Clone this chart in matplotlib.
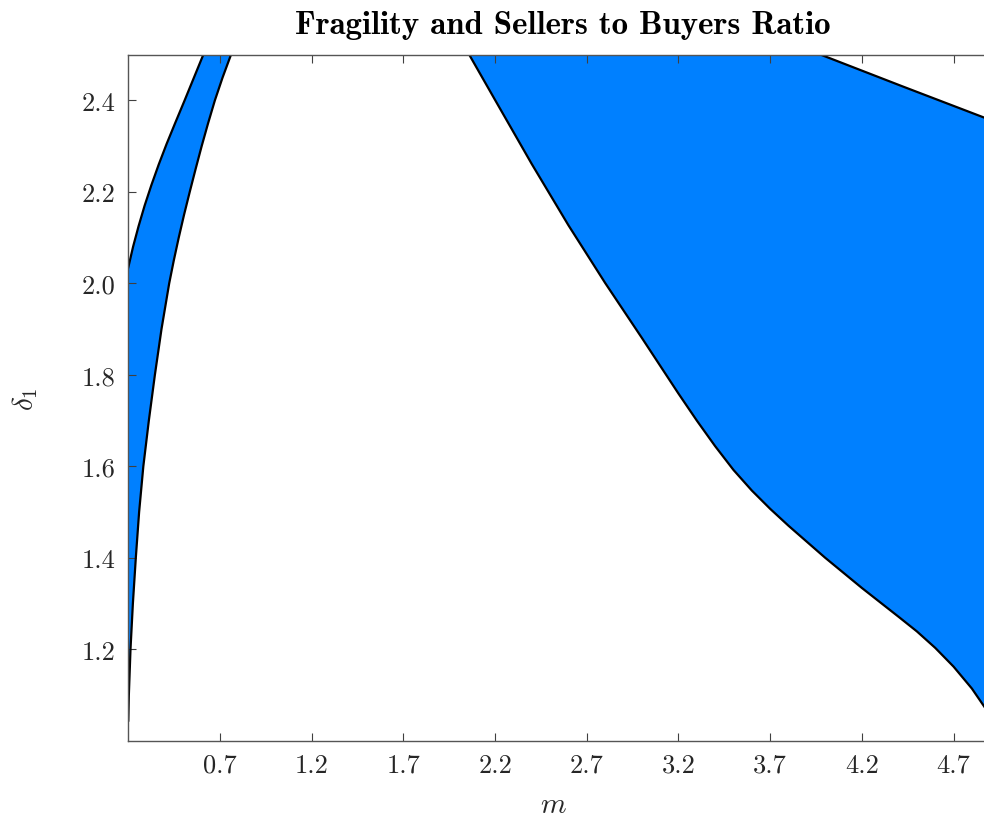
import numpy as np
import matplotlib
matplotlib.use('Agg')
import matplotlib.pyplot as plt
from matplotlib.ticker import FormatStrFormatter

plt.rcParams['font.family'] = 'cmr10'
plt.rcParams['mathtext.fontset'] = 'cm'
plt.rcParams['axes.formatter.use_mathtext'] = True

# left band: outer (upper) edge and inner (lower) edge
band_left_m = [0.200, 0.226, 0.256, 0.289, 0.326, 0.366, 0.409, 0.455,
               0.507, 0.558, 0.609]
band_left_d = [2.035, 2.080, 2.125, 2.170, 2.215, 2.260, 2.305, 2.350,
               2.400, 2.450, 2.500]
band_right_m = [0.200, 0.203, 0.212, 0.225, 0.241, 0.259, 0.282, 0.312,
                0.345, 0.381, 0.423, 0.448, 0.475, 0.504, 0.535, 0.567,
                0.600, 0.635, 0.672, 0.714, 0.760]
band_right_d = [1.044, 1.100, 1.200, 1.300, 1.400, 1.500, 1.600, 1.700,
                1.800, 1.900, 2.000, 2.050, 2.100, 2.150, 2.200, 2.250,
                2.300, 2.350, 2.400, 2.450, 2.500]

# right region: lower boundary and upper-right boundary
region_low_m = [2.059, 2.200, 2.400, 2.600, 2.800, 3.000, 3.100, 3.200,
                3.300, 3.400, 3.500, 3.600, 3.700, 3.800, 3.900, 4.000,
                4.200, 4.400, 4.500, 4.600, 4.700, 4.800, 4.870]
region_low_d = [2.500, 2.401, 2.261, 2.127, 2.001, 1.881, 1.820, 1.759,
                1.700, 1.644, 1.592, 1.547, 1.507, 1.470, 1.435, 1.400,
                1.334, 1.271, 1.239, 1.203, 1.162, 1.114, 1.073]
region_top_m = [3.976, 4.420, 4.870]
region_top_d = [2.500, 2.431, 2.362]

xticks = [0.7, 1.2, 1.7, 2.2, 2.7, 3.2, 3.7, 4.2, 4.7]
yticks = [1.2, 1.4, 1.6, 1.8, 2.0, 2.2, 2.4]

blue = '#0080ff'
fig = plt.figure(figsize=(9.84, 8.2), dpi=100)
ax = fig.add_axes([128.3 / 984, 78.3 / 820, 1 - 128.3 / 984, 686 / 820])

# left band polygon
bx = [0.2] + band_left_m + band_right_m[::-1]
by = [band_right_d[0]] + band_left_d + band_right_d[::-1]
ax.fill(bx, by, color=blue, lw=0, zorder=1)
ax.plot(band_left_m, band_left_d, color='k', lw=1.6, zorder=2)
ax.plot(band_right_m, band_right_d, color='k', lw=1.6, zorder=2)

# right region polygon
rx = region_low_m + region_top_m[::-1]
ry = region_low_d + region_top_d[::-1]
ax.fill(rx, ry, color=blue, lw=0, zorder=1)
ax.plot(region_low_m, region_low_d, color='k', lw=1.6, zorder=2)
ax.plot(region_top_m, region_top_d, color='k', lw=1.6, zorder=2)

ax.set_xlim(0.2, 4.866)
ax.set_ylim(1.0, 2.5)
ax.set_xticks(xticks)
ax.set_yticks(yticks)
ax.xaxis.set_major_formatter(FormatStrFormatter('%.1f'))
ax.yaxis.set_major_formatter(FormatStrFormatter('%.1f'))
ax.tick_params(direction='in', length=6, width=0.8, color='#404040',
               labelcolor='#262626', labelsize=19, top=True, right=False, pad=9)

for side in ['left', 'bottom', 'top']:
    ax.spines[side].set_color('#555555')
    ax.spines[side].set_linewidth(1.0)
    ax.spines[side].set_zorder(3)
ax.spines['right'].set_visible(False)

ax.set_xlabel('$m$', fontsize=21, color='#262626')
ax.xaxis.set_label_coords((553 - 128.3) / (984 - 128.3), -0.075)
ax.set_ylabel(r'$\delta_1$', fontsize=21, color='#262626')
ax.yaxis.set_label_coords((40 - 128.3) / (984 - 128.3), 0.5)

ax.set_title('Fragility and Sellers to Buyers Ratio', fontfamily='cmb10',
             fontsize=23.7, color='k', x=(563 - 128.3) / (984 - 128.3), pad=15.5)

plt.savefig('out.png', dpi=100)
